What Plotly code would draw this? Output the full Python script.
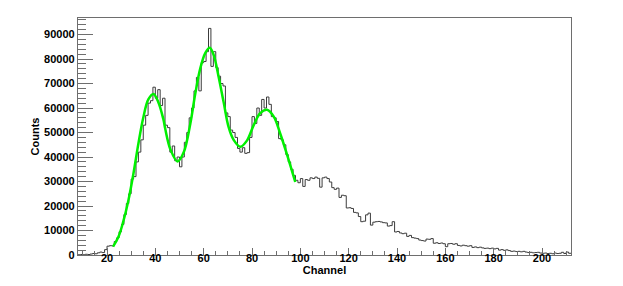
import plotly.graph_objects as go

# Histogram: channel bin left edges (bin width 1) and counts
CHANNELS = list(range(8, 212))
COUNTS = [
    100, 200, 100, 300, 200, 400, 600, 500, 900, 1200,           # 8-17
    1000, 2200, 3600, 3800, 3700, 5500, 7000, 9500, 12500, 16500,  # 18-27
    21000, 25000, 31000, 32000, 38000, 42000, 47000, 53000, 57000, 62000,  # 28-37
    63000, 68500, 64000, 67500, 61000, 64000, 53000, 52000, 42000, 44500,  # 38-47
    38500, 40000, 36000, 40000, 46000, 50000, 56000, 60000, 67000, 72500,  # 48-57
    67000, 78500, 79000, 83000, 92500, 77000, 83000, 76500, 73000, 70000,  # 58-67
    69000, 58000, 56500, 51000, 50000, 48000, 43500, 42000, 43800, 41500,  # 68-77
    41800, 48000, 56500, 53700, 60000, 57000, 63500, 60000, 64500, 61500,  # 78-87
    56500, 56000, 54500, 47500, 47000, 45000, 41000, 38000, 35000, 32500,  # 88-97
    30500, 29500, 31200, 28000, 30800, 30500, 31500, 31200, 31800, 31300,  # 98-107
    27700, 31500, 31800, 31200, 29800, 27500, 26800, 27300, 23500, 24400,  # 108-117
    24200, 19200, 19300, 19000, 17400, 17200, 15700, 13600, 13800, 16400,  # 118-127
    17100, 12200, 13400, 13600, 13700, 13500, 13200, 13100, 11800, 12000,  # 128-137
    13600, 9400, 9600, 9000, 8700, 8900, 7600, 8000, 7100, 6900,          # 138-147
    6700, 6100, 5900, 5700, 6500, 6400, 6700, 4800, 5000, 4700,           # 148-157
    4900, 4600, 3400, 4600, 4700, 4400, 4600, 3900, 3700, 4000,           # 158-167
    3800, 3600, 3800, 3100, 3300, 3000, 3200, 2900, 2700, 2800,           # 168-177
    2600, 2800, 2500, 2700, 2000, 2200, 1900, 2100, 1800, 1500,           # 178-187
    1600, 1400, 1500, 1300, 1500, 1200, 1000, 1100, 900, 1000,            # 188-197
    1100, 800, 700, 800, 600, 700, 500, 800, 600, 700,                    # 198-207
    1100, 600, 1200, 700,                                                 # 208-211
]
BIN_WIDTH = 1

# Fit curve points
FIT_X = [22.5, 24.7, 26.7, 28.8, 30.9, 33.0, 35.0, 37.1, 39.2, 41.2, 43.3,
         44.1, 46.2, 49.2, 51.7, 54.5, 56.5, 58.6, 60.7, 62.5, 64.1, 66.2,
         68.3, 70.3, 72.4, 75.2, 77.9, 80.7, 83.4, 86.2, 89.0, 91.7, 94.5, 97.9]
FIT_Y = [3400, 7300, 13500, 22000, 33000, 45500, 56000, 63500, 65700, 62500, 55500,
         51500, 43200, 38200, 41800, 53700, 65700, 76200, 82500, 84600, 81800, 72700,
         62200, 52300, 47000, 44200, 46700, 53000, 57900, 59300, 56500, 49500, 41000, 29800]

X_RANGE = [8, 212]
Y_RANGE = [0, 96750]
X_TITLE = "Channel"
Y_TITLE = "Counts"

step_x = CHANNELS + [CHANNELS[-1] + BIN_WIDTH]
step_y = COUNTS + [COUNTS[-1]]

font_bold = dict(family="Liberation Sans, Arial, sans-serif", size=11, color="black", weight="bold")
frame_col = "#6e6e6e"

fig = go.Figure()
fig.add_trace(go.Scatter(x=step_x, y=step_y, mode="lines", line_shape="hv",
                         line=dict(color="#3c3c3c", width=1), hoverinfo="skip"))
fig.add_trace(go.Scatter(x=FIT_X, y=FIT_Y, mode="lines", line_shape="spline",
                         line=dict(color="#00f000", width=2.5, smoothing=1.0), hoverinfo="skip"))

# page body has an 8px default margin, so the figure is sized/margined to compensate
fig.update_layout(
    width=615, height=278,
    margin=dict(l=70, r=52, t=10, b=31, autoexpand=False),
    paper_bgcolor="white", plot_bgcolor="white",
    showlegend=False,
    xaxis=dict(range=X_RANGE, showgrid=False, zeroline=False, automargin=False,
               showline=True, mirror=True, linecolor=frame_col, linewidth=1.2,
               ticks="inside", ticklen=7, tickcolor=frame_col, tickwidth=1,
               tick0=0, dtick=20, tickfont=font_bold, ticklabelstandoff=-7,
               minor=dict(dtick=5, ticklen=4, ticks="inside", tickcolor=frame_col, showgrid=False),
               title=dict(text=X_TITLE, font=font_bold, standoff=2)),
    yaxis=dict(range=Y_RANGE, showgrid=False, zeroline=False, automargin=False,
               showline=True, mirror=True, linecolor=frame_col, linewidth=1.2,
               ticks="inside", ticklen=15, tickcolor=frame_col, tickwidth=1,
               tick0=0, dtick=10000, tickfont=font_bold, tickformat="d",
               minor=dict(dtick=2000, ticklen=8, ticks="inside", tickcolor=frame_col, showgrid=False),
               title=dict(text=Y_TITLE, font=font_bold, standoff=2)),
)

fig.write_html("out.html")
